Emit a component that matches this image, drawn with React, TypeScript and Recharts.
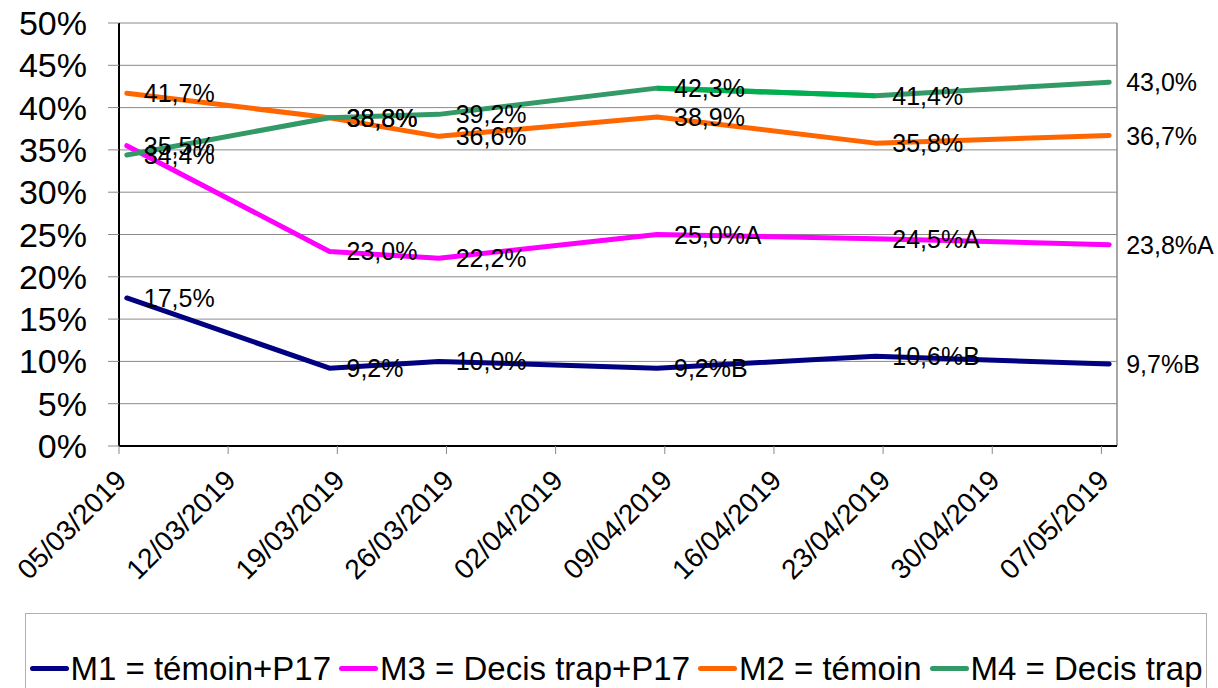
import React from 'react';
import { LineChart, Line, XAxis, YAxis, CartesianGrid, Legend, LabelList, ReferenceLine } from 'recharts';

// ---- data ----
const sampleDates = ['05/03/2019', '18/03/2019', '25/03/2019', '08/04/2019', '22/04/2019', '07/05/2019'];
const tickDates = ['05/03/2019', '12/03/2019', '19/03/2019', '26/03/2019', '02/04/2019', '09/04/2019', '16/04/2019', '23/04/2019', '30/04/2019', '07/05/2019'];
const axisEndDate = '08/05/2019';
const yTicks = [0, 5, 10, 15, 20, 25, 30, 35, 40, 45, 50];

const seriesNames = ['M1 = témoin+P17', 'M3 = Decis trap+P17', 'M2 = témoin', 'M4 = Decis trap'];
const m1 = [17.5, 9.2, 10.0, 9.2, 10.6, 9.7];
const m1Flags = ['', '', '', 'B', 'B', 'B'];
const m3 = [35.5, 23.0, 22.2, 25.0, 24.5, 23.8];
const m3Flags = ['', '', '', 'A', 'A', 'A'];
const m2 = [41.7, 38.8, 36.6, 38.9, 35.8, 36.7];
const m4 = [34.4, 38.8, 39.2, 42.3, 41.4, 43.0];
// segment of M4 drawn in a brighter green in the original
const m4SegmentIdx = [3, 4];

// ---- styles ----
const COLORS = ['#000080', '#FF00FF', '#FF6600', '#339966'];
const SEGMENT_COLOR = '#00B050';
const FONT = '"Liberation Sans", Arial, sans-serif';
const GRID = '#8a8a8a';

const dayOf = (s: string) => {
  const [d, m, y] = s.split('/').map(Number);
  const [d0, m0, y0] = tickDates[0].split('/').map(Number);
  return Math.round((Date.UTC(y, m - 1, d) - Date.UTC(y0, m0 - 1, d0)) / 86400000);
};

const tickDays = tickDates.map(dayOf);
const endDay = dayOf(axisEndDate);

// Excel date axis plots each point in the middle of its day
const data = sampleDates.map((s, i) => ({
  x: dayOf(s) + 0.5,
  m1: m1[i],
  m3: m3[i],
  m2: m2[i],
  m4: m4[i],
  m4b: m4SegmentIdx.includes(i) ? m4[i] : null,
}));

const fmt = (v: number) => v.toFixed(1).replace('.', ',') + '%';

const makeLabel = (flags?: string[]) => (props: any) => {
  const { value, index } = props;
  if (value == null) return null;
  const x = props.x ?? props.viewBox?.x;
  const y = props.y ?? props.viewBox?.y;
  const suffix = flags ? flags[index] || '' : '';
  return (
    <text x={x + 17} y={y} dominantBaseline="central" fontSize={25} fontFamily={FONT} fill="#000">
      {fmt(value) + suffix}
    </text>
  );
};

const XTick = (props: any) => {
  const { x, y, payload } = props;
  const idx = tickDays.indexOf(payload.value);
  const label = idx >= 0 ? tickDates[idx] : '';
  const px = x + 9;
  const py = y + 26;
  return (
    <text
      x={px}
      y={py}
      textAnchor="end"
      fontSize={28}
      fontFamily={FONT}
      fill="#000"
      transform={`rotate(-45, ${px}, ${py})`}
    >
      {label}
    </text>
  );
};

const renderLegend = () => (
  <div
    style={{
      boxSizing: 'border-box',
      width: 1182,
      height: 90,
      border: '1px solid #b0b0b0',
      background: '#fff',
      paddingTop: 38,
      fontFamily: FONT,
      fontSize: 33,
      lineHeight: '33px',
      color: '#000',
    }}
  >
    <div style={{ display: 'flex', justifyContent: 'center', alignItems: 'center', gap: 8, whiteSpace: 'nowrap' }}>
      {seriesNames.map((name, i) => (
        <div key={name} style={{ display: 'flex', alignItems: 'center' }}>
          <span
            style={{
              display: 'inline-block',
              width: 39,
              height: 5,
              borderRadius: 3,
              background: COLORS[i],
              marginRight: 2,
            }}
          />
          <span>{name}</span>
        </div>
      ))}
    </div>
  </div>
);

export default function App() {
  return (
    <div style={{ position: 'absolute', left: 0, top: 0, width: 1218, height: 688, overflow: 'hidden', background: '#fff' }}>
      <LineChart
        width={1218}
        height={688}
        data={data}
        margin={{ top: 23, right: 101, left: 19, bottom: 182 }}
        style={{ fontFamily: FONT }}
      >
        <CartesianGrid horizontal vertical={false} stroke={GRID} strokeWidth={1} />
        <XAxis
          dataKey="x"
          type="number"
          domain={[0, endDay]}
          ticks={tickDays}
          interval={0}
          height={60}
          tickSize={8}
          tickLine={{ stroke: GRID }}
          axisLine={{ stroke: '#000', strokeWidth: 2 }}
          tick={<XTick />}
          allowDataOverflow
        />
        <YAxis
          type="number"
          domain={[0, 50]}
          ticks={yTicks}
          interval={0}
          width={100}
          tickSize={11}
          tickMargin={21}
          tickFormatter={(v: number) => `${v}%`}
          tick={{ fontSize: 34, fill: '#000', fontFamily: FONT }}
          tickLine={{ stroke: GRID }}
          axisLine={{ stroke: '#000', strokeWidth: 2 }}
        />
        <ReferenceLine x={endDay} stroke={GRID} strokeWidth={1.5} />
        <Legend
          layout="horizontal"
          verticalAlign="middle"
          align="center"
          content={renderLegend}
          wrapperStyle={{ left: 25, top: 613, bottom: 'auto', width: 1182, height: 90 }}
        />
        <Line dataKey="m1" stroke={COLORS[0]} strokeWidth={5} dot={false} strokeLinecap="round" strokeLinejoin="round" isAnimationActive={false}>
          <LabelList dataKey="m1" content={makeLabel(m1Flags)} />
        </Line>
        <Line dataKey="m3" stroke={COLORS[1]} strokeWidth={5} dot={false} strokeLinecap="round" strokeLinejoin="round" isAnimationActive={false}>
          <LabelList dataKey="m3" content={makeLabel(m3Flags)} />
        </Line>
        <Line dataKey="m2" stroke={COLORS[2]} strokeWidth={5} dot={false} strokeLinecap="round" strokeLinejoin="round" isAnimationActive={false}>
          <LabelList dataKey="m2" content={makeLabel()} />
        </Line>
        <Line dataKey="m4" stroke={COLORS[3]} strokeWidth={5} dot={false} strokeLinecap="round" strokeLinejoin="round" isAnimationActive={false}>
          <LabelList dataKey="m4" content={makeLabel()} />
        </Line>
        <Line dataKey="m4b" stroke={SEGMENT_COLOR} strokeWidth={5} dot={false} strokeLinecap="butt" strokeLinejoin="round" connectNulls={false} legendType="none" isAnimationActive={false} />
      </LineChart>
    </div>
  );
}
